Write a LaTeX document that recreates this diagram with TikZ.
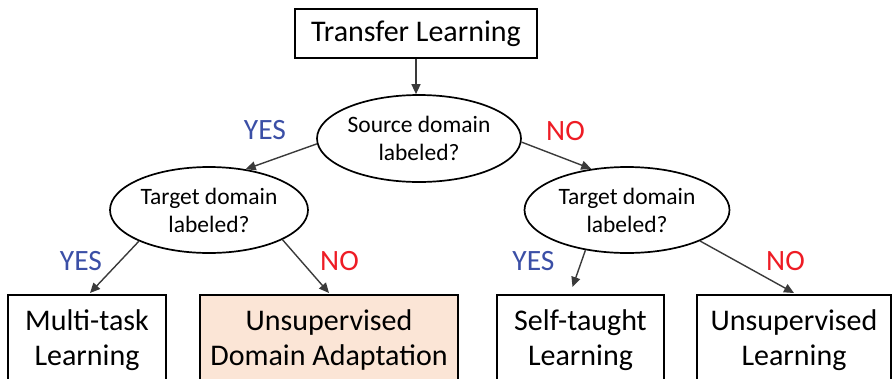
\documentclass[tikz,border=0pt]{standalone}
\usepackage{fontspec}
\setmainfont{Carlito}
\usetikzlibrary{shapes.geometric,arrows.meta}
\definecolor{yesblue}{HTML}{3B4FA6}
\definecolor{nored}{HTML}{EE1C25}
\definecolor{peach}{HTML}{FBE5D6}
\definecolor{arrowgray}{HTML}{3A3A3A}
\begin{document}
\begin{tikzpicture}[x=1pt,y=-1pt,
  topbox/.style={draw, line width=1.7pt, minimum width=242pt, minimum height=49pt, inner sep=0pt, font=\fontsize{30}{36}\selectfont},
  question/.style={draw, ellipse, line width=1.7pt, inner sep=0pt, align=center, font=\fontsize{23.5}{28}\selectfont},
  leaf/.style={draw, line width=1.7pt, anchor=north, minimum height=91pt, inner sep=0pt, align=center, font=\fontsize{30}{35}\selectfont},
  conn/.style={draw=arrowgray, line width=1.4pt, -{Triangle[length=10pt,width=9pt]}},
  yeslab/.style={text=yesblue, font=\fontsize{29.5}{34}\selectfont, inner sep=0pt},
  nolab/.style={text=nored, font=\fontsize{29.5}{34}\selectfont, inner sep=0pt}]
\useasboundingbox (0,0) rectangle (893,378);
\node[topbox] (tl) at (416,33.5) {Transfer Learning};
\node[question, minimum width=204pt, minimum height=87pt] (e1) at (419,138.5) {Source domain\\labeled?};
\node[question, minimum width=198pt, minimum height=86pt] (e2) at (209,210) {Target domain\\labeled?};
\node[question, minimum width=205pt, minimum height=86pt] (e3) at (627,210) {Target domain\\labeled?};
\node[leaf, minimum width=158pt] (b1) at (87,294) {Multi-task\\Learning};
\node[leaf, minimum width=258pt, fill=peach] (b2) at (329,294) {Unsupervised\\Domain Adaptation};
\node[leaf, minimum width=167pt] (b3) at (580.5,294) {Self-taught\\Learning};
\node[leaf, minimum width=194pt] (b4) at (794,294) {Unsupervised\\Learning};
\node[yeslab] (y1) at (265,130.5) {YES};
\node[nolab] (n1) at (565.5,131) {NO};
\node[yeslab] (y2) at (81,261) {YES};
\node[nolab] (n2) at (339.5,261) {NO};
\node[yeslab] (y3) at (533.5,261) {YES};
\node[nolab] (n3) at (785.5,261) {NO};
\draw[conn] (tl.south) -- (tl.south |- e1.north);
\draw[conn] (e1.183) -- (e2.48);
\draw[conn] (e1.-2) -- (e3.131);
\draw[conn] (e2.204) -- ([xshift=3pt,yshift=1pt]b1.north);
\draw[conn] (e2.-22) -- ([yshift=1pt]b2.north);
\draw[conn] (e3.224) -- ([xshift=-8pt,yshift=7pt]b3.north);
\draw[conn] (e3.-23) -- ([yshift=1pt]b4.north);
\end{tikzpicture}
\end{document}
